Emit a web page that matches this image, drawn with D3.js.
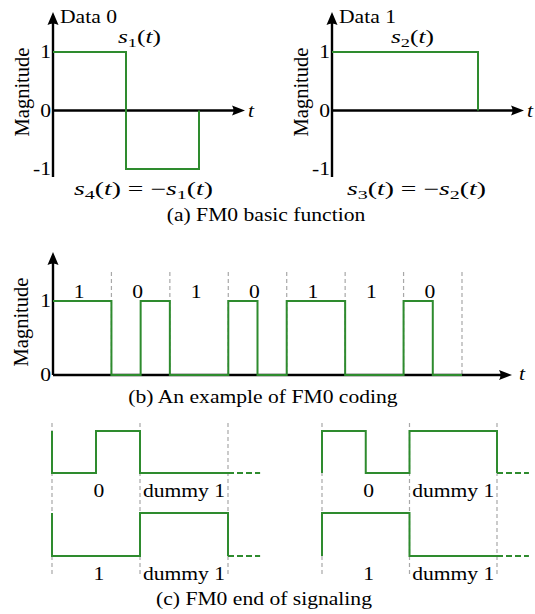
<!DOCTYPE html>
<html>
<head>
<meta charset="utf-8">
<script src="https://cdn.jsdelivr.net/npm/d3@7"></script>
<style>
  body { margin: 0; background: #fff; }
  text { font-family: "Liberation Serif", "Times New Roman", serif; font-size: 18px; fill: #000; }
</style>
</head>
<body>
<svg id="fig" width="535" height="614"></svg>
<script>
// ---- data
// (a) basic functions, level per half period
const basicNames = ['Data 0', 'Data 1'];
const basicLevels = [[1, -1], [1, 1]];
const basicTicks = [1, 0, -1];
const basicTop = [['s', '_1', '(', 't', ')'], ['s', '_2', '(', 't', ')']];
const basicBottom = [
  ['s', '_4', '(', 't', ')', ' = ', '−', 's', '_1', '(', 't', ')'],
  ['s', '_3', '(', 't', ')', ' = ', '−', 's', '_2', '(', 't', ')']
];

// (b) example coding, level per half bit
const codingBits = ['1', '0', '1', '0', '1', '1', '0'];
const codingLevels = [1, 1, 0, 1, 0, 0, 1, 0, 1, 1, 0, 0, 1, 0];
const codingTicks = [1, 0];

// (c) end of signaling: level before start, then level per half bit
const endBits = ['0', '1'];
const endDummy = 'dummy 1';
const endStart = [[1, 1], [0, 0]];
const endLevels = [
  [[0, 1, 0, 0], [0, 0, 1, 1]],
  [[1, 0, 1, 1], [1, 1, 0, 0]]
];

const captions = ['(a) FM0 basic function', '(b) An example of FM0 coding', '(c) FM0 end of signaling'];

// ---- drawing
const SX = 1.2; // the source figure is stretched sideways
const GREEN = '#2e8b2e';
const GRID = '#a8a8a8';
const svg = d3.select('#fig');

const stepLine = (x, y) => d3.line().x(d => x(d[0])).y(d => y(d[1])).curve(d3.curveStepAfter);

function label(g, x, y, str, anchor) {
  return g.append('text')
    .attr('transform', `translate(${x},${y}) scale(${SX},1)`)
    .attr('text-anchor', anchor || 'start')
    .text(str);
}

function italic(g, x, y, str) {
  return label(g, x, y, str).style('font-style', 'italic');
}

function magnitude(g, x, y) {
  g.append('text')
    .attr('transform', `translate(${x},${y}) rotate(-90)`)
    .attr('text-anchor', 'middle')
    .style('font-size', '20.5px')
    .text('Magnitude');
}

// small math formula, tokens: 's'/'t' italic, '_n' subscript
function math(g, x, y, tokens, width) {
  const t = g.append('text')
    .attr('x', x).attr('y', y)
    .attr('textLength', width)
    .attr('lengthAdjust', 'spacingAndGlyphs');
  let low = false;
  tokens.forEach(tok => {
    const sp = t.append('tspan');
    if (tok[0] === '_') {
      sp.attr('dy', 4).style('font-size', '13px').text(tok.slice(1));
      low = true;
      return;
    }
    if (low) { sp.attr('dy', -4); low = false; }
    if (tok === 's' || tok === 't') sp.style('font-style', 'italic');
    sp.text(tok);
  });
}

// axes with latex-like arrow tips
function axes(g, x0, yBottom, yTip, y0, xTip) {
  g.append('line').attr('x1', x0).attr('x2', x0).attr('y1', yBottom).attr('y2', yTip + 8)
    .attr('stroke', '#000').attr('stroke-width', 2.4);
  g.append('line').attr('x1', x0).attr('x2', xTip - 8).attr('y1', y0).attr('y2', y0)
    .attr('stroke', '#000').attr('stroke-width', 2.4);
  g.append('path')
    .attr('d', `M${x0},${yTip}L${x0 - 5.5},${yTip + 13}Q${x0},${yTip + 10} ${x0 + 5.5},${yTip + 13}Z`);
  g.append('path')
    .attr('d', `M${xTip},${y0}L${xTip - 13},${y0 - 5}Q${xTip - 10},${y0} ${xTip - 13},${y0 + 5}Z`);
}

// (a) basic functions
const aOrigins = [53, 332];
const aY = d3.scaleLinear().domain([-1, 1]).range([169, 52]);
basicLevels.forEach((levels, i) => {
  const ox = aOrigins[i];
  const x = d3.scaleLinear().domain([0, 2]).range([ox, ox + 146]);
  const g = svg.append('g');
  axes(g, ox, aY(-1) + 8, 12, aY(0), ox + 192);

  const pts = levels.map((v, k) => [k, v]).concat([[levels.length, 0]]);
  g.append('path').attr('d', stepLine(x, aY)(pts))
    .attr('fill', 'none').attr('stroke', GREEN).attr('stroke-width', 2);

  basicTicks.forEach(v => label(g, ox - 2, aY(v) + 6, String(v), 'end'));
  label(g, ox + 7, 23, basicNames[i]);
  italic(g, ox + 195, aY(0) + 6, 't');
  magnitude(g, ox - 24, 92);
  math(g, i === 0 ? ox + 65 : ox + 59, 43, basicTop[i], 43);
  math(g, ox + (i === 0 ? 21 : 15), 195, basicBottom[i], 139);
});
label(svg, 266, 221, captions[0], 'middle');

// (b) example of FM0 coding
const bX = d3.scaleLinear().domain([0, 14]).range([53, 462]);
const bY = d3.scaleLinear().domain([0, 1]).range([375, 301]);
const gb = svg.append('g');
codingBits.forEach((b, k) => {
  const xb = bX(2 * k + 2);
  gb.append('line').attr('x1', xb).attr('x2', xb).attr('y1', 272).attr('y2', bY(0))
    .attr('stroke', GRID).attr('stroke-width', 1.2).attr('stroke-dasharray', '4,3');
  label(gb, bX(2 * k + 1) - 3, 298, b, 'middle');
});
axes(gb, bX(0), bY(0), 252, bY(0), 512);
const bPts = codingLevels.map((v, k) => [k, v]).concat([[codingLevels.length, 0]]);
gb.append('path').attr('d', stepLine(bX, bY)(bPts))
  .attr('fill', 'none').attr('stroke', GREEN).attr('stroke-width', 2);
codingTicks.forEach(v => label(gb, bX(0) - 2, bY(v) + 6, String(v), 'end'));
italic(gb, 519, 380, 't');
magnitude(gb, 28, 322);
label(svg, 263, 403, captions[1], 'middle');

// (c) end of signaling
const cCols = [[52, 228], [322, 497]];
const cRows = [[473, 431], [556, 513]];
const cLabelY = [497, 580];
cCols.forEach((col, c) => {
  const x = d3.scaleLinear().domain([0, 4]).range(col);
  const g = svg.append('g');
  [0, 2, 4].forEach(v => {
    g.append('line').attr('x1', x(v)).attr('x2', x(v)).attr('y1', 423).attr('y2', 577)
      .attr('stroke', GRID).attr('stroke-width', 1.2).attr('stroke-dasharray', '4,3');
  });
  cRows.forEach((row, r) => {
    const y = d3.scaleLinear().domain([0, 1]).range(row);
    const lv = endLevels[c][r];
    const pts = [[0, endStart[c][r]]].concat(lv.map((v, k) => [k, v]), [[4, 0]]);
    g.append('path').attr('d', stepLine(x, y)(pts))
      .attr('fill', 'none').attr('stroke', GREEN).attr('stroke-width', 2);
    // dashed continuation after the dummy bit
    g.append('path').attr('d', d3.line().x(d => x(d[0])).y(d => y(d[1]))([[4, 0], [4.73, 0]]))
      .attr('fill', 'none').attr('stroke', GREEN).attr('stroke-width', 2)
      .attr('stroke-dasharray', '6,3');
    label(g, x(1) + 3, cLabelY[r], endBits[r], 'middle');
    label(g, x(3), cLabelY[r], endDummy, 'middle');
  });
});
label(svg, 264, 605, captions[2], 'middle');
</script>
</body>
</html>
